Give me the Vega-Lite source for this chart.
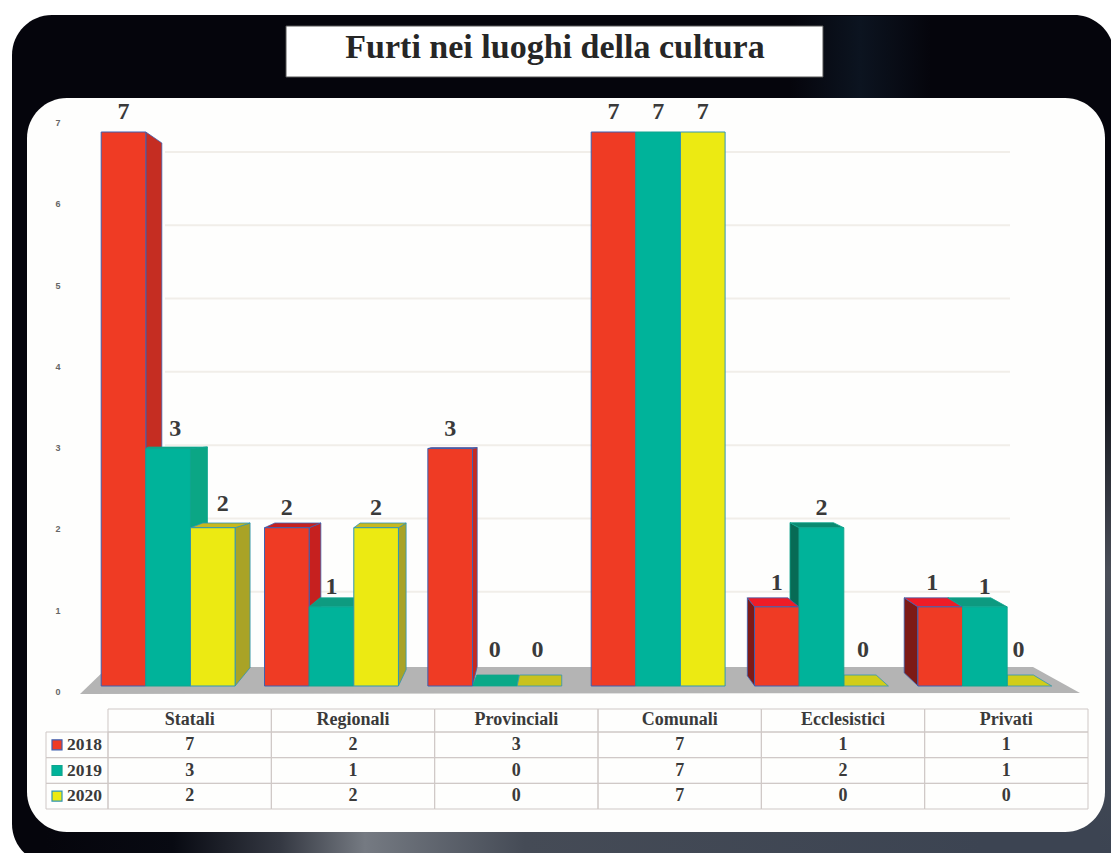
{"$schema":"https://vega.github.io/schema/vega-lite/v6.json","width":1111,"height":853,"padding":0,"autosize":{"type":"none"},"background":"#ffffff","config":{"view":{"stroke":null}},
"datasets":{"bars":[
{"category":"Statali","year":"2018","value":7,"id":"S18"},{"category":"Statali","year":"2019","value":3,"id":"S19"},{"category":"Statali","year":"2020","value":2,"id":"S20"},
{"category":"Regionali","year":"2018","value":2,"id":"R18"},{"category":"Regionali","year":"2019","value":1,"id":"R19"},{"category":"Regionali","year":"2020","value":2,"id":"R20"},
{"category":"Provinciali","year":"2018","value":3,"id":"P18"},{"category":"Provinciali","year":"2019","value":0,"id":"P19"},{"category":"Provinciali","year":"2020","value":0,"id":"P20"},
{"category":"Comunali","year":"2018","value":7,"id":"C18"},{"category":"Comunali","year":"2019","value":7,"id":"C19"},{"category":"Comunali","year":"2020","value":7,"id":"C20"},
{"category":"Ecclesistici","year":"2018","value":1,"id":"E18"},{"category":"Ecclesistici","year":"2019","value":2,"id":"E19"},{"category":"Ecclesistici","year":"2020","value":0,"id":"E20"},
{"category":"Privati","year":"2018","value":1,"id":"V18"},{"category":"Privati","year":"2019","value":1,"id":"V19"},{"category":"Privati","year":"2020","value":0,"id":"V20"}],
"cats":[{"category":"Statali"},{"category":"Regionali"},{"category":"Provinciali"},{"category":"Comunali"},{"category":"Ecclesistici"},{"category":"Privati"}],
"years":[{"year":"2018"},{"year":"2019"},{"year":"2020"}],
"levels":[{"level":0},{"level":1},{"level":2},{"level":3},{"level":4},{"level":5},{"level":6},{"level":7}],
"one":[{}]},
"resolve":{"scale":{"x":"independent","y":"independent","fill":"independent","shape":"independent","stroke":"independent","color":"independent"}},
"layer":[
{"data":{"name":"one"},"mark":{"type":"rect","fill":"#05050c","cornerRadius":40},"encoding":{"x":{"datum":12,"type":"quantitative","axis":null,"scale":{"domain":[0,1111],"range":[0,1111]}},"x2":{"datum":1114},"y":{"datum":15,"type":"quantitative","axis":null,"scale":{"domain":[0,853],"range":[0,853]}},"y2":{"datum":864}}},
{"data":{"name":"one"},"mark":{"type":"rect","fill":{"gradient":"linear","x1":0,"y1":0,"x2":1,"y2":0,"stops":[{"offset":0,"color":"#05050c"},{"offset":0.5,"color":"#0c1420"},{"offset":1,"color":"#05050c"}]}},"encoding":{"x":{"datum":790,"type":"quantitative","axis":null,"scale":{"domain":[0,1111],"range":[0,1111]}},"x2":{"datum":930},"y":{"datum":16,"type":"quantitative","axis":null,"scale":{"domain":[0,853],"range":[0,853]}},"y2":{"datum":98}}},
{"data":{"name":"one"},"mark":{"type":"rect","fill":{"gradient":"linear","x1":0,"y1":0,"x2":1,"y2":0,"stops":[{"offset":0,"color":"#05050c"},{"offset":0.12,"color":"#080a12"},{"offset":0.22,"color":"#343842"},{"offset":0.3,"color":"#757a82"},{"offset":0.45,"color":"#454b56"},{"offset":0.88,"color":"#3c4452"},{"offset":1,"color":"#3c4452"}]}},"encoding":{"x":{"datum":45,"type":"quantitative","axis":null,"scale":{"domain":[0,1111],"range":[0,1111]}},"x2":{"datum":1111},"y":{"datum":785,"type":"quantitative","axis":null,"scale":{"domain":[0,853],"range":[0,853]}},"y2":{"datum":853}}},
{"data":{"name":"one"},"mark":{"type":"rect","fill":{"gradient":"linear","x1":0,"y1":0,"x2":0,"y2":1,"stops":[{"offset":0,"color":"#05050c"},{"offset":0.35,"color":"#15171e"},{"offset":0.6,"color":"#4a4e58"},{"offset":1,"color":"#3c4452"}]}},"encoding":{"x":{"datum":1100,"type":"quantitative","axis":null,"scale":{"domain":[0,1111],"range":[0,1111]}},"x2":{"datum":1111},"y":{"datum":150,"type":"quantitative","axis":null,"scale":{"domain":[0,853],"range":[0,853]}},"y2":{"datum":853}}},
{"data":{"name":"one"},"mark":{"type":"rect","fill":"#fefefd","cornerRadius":40},"encoding":{"x":{"datum":27,"type":"quantitative","axis":null,"scale":{"domain":[0,1111],"range":[0,1111]}},"x2":{"datum":1105},"y":{"datum":98,"type":"quantitative","axis":null,"scale":{"domain":[0,853],"range":[0,853]}},"y2":{"datum":832}}},
{"data":{"name":"one"},"mark":{"type":"rect","fill":"#ffffff","stroke":"#555555","strokeWidth":1},"encoding":{"x":{"datum":286,"type":"quantitative","axis":null,"scale":{"domain":[0,1111],"range":[0,1111]}},"x2":{"datum":823},"y":{"datum":26,"type":"quantitative","axis":null,"scale":{"domain":[0,853],"range":[0,853]}},"y2":{"datum":77}}},
{"data":{"name":"one"},"mark":{"type":"text","text":"Furti nei luoghi della cultura","font":"Liberation Serif","fontWeight":"bold","fontSize":34,"fill":"#262626","align":"center","baseline":"middle"},"encoding":{"x":{"datum":555,"type":"quantitative","axis":null,"scale":{"domain":[0,1111],"range":[0,1111]}},"y":{"datum":48,"type":"quantitative","axis":null,"scale":{"domain":[0,853],"range":[0,853]}}}},
{"data":{"name":"levels"},"transform":[{"filter":"datum.level>0"}],"mark":{"type":"rule","stroke":"#f1eee9","strokeWidth":2},"encoding":{"x":{"datum":165,"type":"quantitative","axis":null,"scale":{"domain":[0,1111],"range":[0,1111]}},"x2":{"datum":1010},"y":{"field":"level","type":"quantitative","axis":null,"scale":{"domain":[0,7],"range":[665,152]}}}},
{"data":{"name":"levels"},"mark":{"type":"text","font":"Liberation Sans","fontSize":9,"fontWeight":"bold","fill":"#666666","align":"center","baseline":"middle"},"encoding":{"x":{"datum":58,"type":"quantitative","axis":null,"scale":{"domain":[0,1111],"range":[0,1111]}},"y":{"field":"level","type":"quantitative","axis":null,"scale":{"domain":[0,7],"range":[692,123]}},"text":{"field":"level","type":"quantitative"}}},
{"data":{"name":"one"},"mark":{"type":"point","shape":"M-496,27 L-468,0 L457,0 L504,26 Z","size":4,"filled":true,"fill":"#b4b4b4","opacity":1,"strokeWidth":0},"encoding":{"x":{"datum":576,"type":"quantitative","axis":null,"scale":{"domain":[0,1111],"range":[0,1111]}},"y":{"datum":667,"type":"quantitative","axis":null,"scale":{"domain":[0,853],"range":[0,853]}}}},
{"data":{"name":"bars"},"transform":[{"filter":"datum.value>0"}],"mark":{"type":"point","size":4,"filled":true,"opacity":1,"strokeWidth":0.8},"encoding":{
"x":{"field":"category","type":"nominal","sort":null,"axis":null,"scale":{"type":"band","domain":["Statali","Regionali","Provinciali","Comunali","Ecclesistici","Privati"],"range":[86.5,1066.5],"paddingInner":0.18,"paddingOuter":0.09}},
"xOffset":{"field":"year","type":"nominal","scale":{"domain":["2018","2019","2020"],"range":[0,133.9]}},
"y":{"field":"value","type":"quantitative","axis":null,"scale":{"domain":[0,7],"range":[686,132]}},
"shape":{"field":"id","type":"nominal","legend":null,"scale":{"domain":["S18","S19","S20","R18","R19","R20","P18","C18","C19","C20","E18","E19","V18","V19"],"range":["M22.3,0 L38.3,11 L38.3,538 L22.3,554 Z","M22.3,0 L39.3,-1.5 L39.3,222 L22.3,237.4 Z","M22.3,0 L37.3,-4.7 L37.3,140 L22.3,158.3 Z","M22.3,0 L34,-4.7 L34,142 L22.3,158.3 Z","M22.3,0 L26,-9 L26,62 L22.3,79 Z","M22.3,0 L30,-4.7 L30,142 L22.3,158.3 Z","M22.3,0 L27,-1 L27,218 L22.3,237.4 Z","M0,0Z","M0,0Z","M0,0Z","M-22.3,0 L-29.5,-9 L-29.5,69 L-22.3,79 Z","M-22.3,0 L-31.5,-5 L-31.5,142 L-22.3,158.3 Z","M-22.3,0 L-36,-9 L-36,66 L-22.3,79 Z","M0,0Z"]}},
"fill":{"field":"id","type":"nominal","legend":null,"scale":{"domain":["S18","S19","S20","R18","R19","R20","P18","C18","C19","C20","E18","E19","V18","V19"],"range":["#c52d22","#0ba685","#a9a326","#c6201f","#0aa084","#a9a326","#c6291f","#000000","#000000","#000000","#7d1a16","#076b55","#7d1a16","#076b55"]}},
"stroke":{"field":"year","type":"nominal","legend":null,"scale":{"domain":["2018","2019","2020"],"range":["#3c5fb0","#0fa58e","#2f95b5"]}}}},
{"data":{"name":"bars"},"mark":{"type":"point","size":4,"filled":true,"opacity":1,"strokeWidth":0.8},"encoding":{
"x":{"field":"category","type":"nominal","sort":null,"axis":null,"scale":{"type":"band","domain":["Statali","Regionali","Provinciali","Comunali","Ecclesistici","Privati"],"range":[86.5,1066.5],"paddingInner":0.18,"paddingOuter":0.09}},
"xOffset":{"field":"year","type":"nominal","scale":{"domain":["2018","2019","2020"],"range":[0,133.9]}},
"y":{"field":"value","type":"quantitative","axis":null,"scale":{"domain":[0,7],"range":[686,132]}},
"shape":{"field":"id","type":"nominal","legend":null,"scale":{"domain":["S18","S19","S20","R18","R19","R20","P18","P19","P20","C18","C19","C20","E18","E19","E20","V18","V19","V20"],"range":["M0,0Z","M-22.3,0 L-20,-1.5 L39.3,-1.5 L22.3,0 Z","M-22.3,0 L-10,-4.7 L37.3,-4.7 L22.3,0 Z","M-22.3,0 L-12,-4.7 L34,-4.7 L22.3,0 Z","M-22.3,0 L-11.5,-9 L26,-9 L22.3,0 Z","M-22.3,0 L-16,-4.7 L30,-4.7 L22.3,0 Z","M-22.3,0 L-19,-1 L27,-1 L22.3,0 Z","M-22.3,0 L-18,-11 L24,-11 L22.3,0 Z","M-22.3,0 L-20,-11 L22.3,-11 L22.3,0 Z","M0,0Z","M0,0Z","M0,0Z","M-22.3,0 L-29.5,-9 L11,-9 L22.3,0 Z","M-22.3,0 L-31.5,-5 L12,-5 L22.3,0 Z","M-22.3,0 L-22.3,-11 L10,-11 L22.3,0 Z","M-22.3,0 L-36,-9 L8,-9 L22.3,0 Z","M-22.3,0 L-37,-9 L6,-9 L22.3,0 Z","M-22.3,0 L-22.3,-11 L4,-11 L22.3,0 Z"]}},
"fill":{"field":"id","type":"nominal","legend":null,"scale":{"domain":["S18","S19","S20","R18","R19","R20","P18","P19","P20","C18","C19","C20","E18","E19","E20","V18","V19","V20"],"range":["#c52d22","#0ba685","#c8b81c","#c6201f","#0e9b80","#c8b81c","#e0322a","#0aa988","#c9c21e","#000000","#000000","#000000","#ee1c26","#0a8a70","#d1cd1a","#ee1c26","#0d9a80","#d1cd1a"]}},
"stroke":{"field":"year","type":"nominal","legend":null,"scale":{"domain":["2018","2019","2020"],"range":["#3c5fb0","#0fa58e","#2f95b5"]}}}},
{"data":{"name":"bars"},"transform":[{"filter":"datum.value>0"}],"mark":{"type":"bar","strokeWidth":1},"encoding":{
"x":{"field":"category","type":"nominal","sort":null,"axis":null,"scale":{"type":"band","domain":["Statali","Regionali","Provinciali","Comunali","Ecclesistici","Privati"],"range":[86.5,1066.5],"paddingInner":0.18,"paddingOuter":0.09}},
"xOffset":{"field":"year","type":"nominal","scale":{"domain":["2018","2019","2020"],"range":[0,133.9]}},
"y":{"field":"value","type":"quantitative","axis":null,"scale":{"domain":[0,7],"range":[686,132]}},
"fill":{"field":"year","type":"nominal","legend":null,"scale":{"domain":["2018","2019","2020"],"range":["#ef3b24","#00b39a","#ecea12"]}},
"stroke":{"field":"year","type":"nominal","legend":null,"scale":{"domain":["2018","2019","2020"],"range":["#3c5fb0","#0fa58e","#2f95b5"]}}}},
{"data":{"name":"bars"},"mark":{"type":"text","font":"Liberation Serif","fontWeight":"bold","fontSize":24,"fill":"#3a3a3a","align":"center","baseline":"middle","dx":{"expr":"datum.id=='S19'?7:datum.id=='S20'?10:datum.id=='V18'?-8:datum.id=='V20'?-11:datum.id=='E20'?-3:datum.id=='P20'?-2:0"},"dy":{"expr":"datum.value==0?-36:(datum.id=='S20'||datum.id=='E18'||datum.id=='V18')?-24:-20"}},"encoding":{
"x":{"field":"category","type":"nominal","sort":null,"axis":null,"scale":{"type":"band","domain":["Statali","Regionali","Provinciali","Comunali","Ecclesistici","Privati"],"range":[86.5,1066.5],"paddingInner":0.18,"paddingOuter":0.09}},
"xOffset":{"field":"year","type":"nominal","scale":{"domain":["2018","2019","2020"],"range":[0,133.9]}},
"y":{"field":"value","type":"quantitative","axis":null,"scale":{"domain":[0,7],"range":[686,132]}},
"text":{"field":"value","type":"quantitative"}}},
{"data":{"name":"cats"},"mark":{"type":"rect","fill":null,"stroke":"#cfc8c6","strokeWidth":1},"encoding":{"x":{"field":"category","type":"nominal","sort":null,"axis":null,"scale":{"type":"band","domain":["Statali","Regionali","Provinciali","Comunali","Ecclesistici","Privati"],"range":[108,1088],"padding":0}},"y":{"datum":709,"type":"quantitative","axis":null,"scale":{"domain":[0,853],"range":[0,853]}},"y2":{"datum":732}}},
{"data":{"name":"bars"},"mark":{"type":"rect","fill":null,"stroke":"#cfc8c6","strokeWidth":1},"encoding":{"x":{"field":"category","type":"nominal","sort":null,"axis":null,"scale":{"type":"band","domain":["Statali","Regionali","Provinciali","Comunali","Ecclesistici","Privati"],"range":[108,1088],"padding":0}},"y":{"field":"year","type":"nominal","axis":null,"scale":{"type":"band","domain":["2018","2019","2020"],"range":[732,809],"padding":0}}}},
{"data":{"name":"years"},"mark":{"type":"rect","fill":null,"stroke":"#cfc8c6","strokeWidth":1},"encoding":{"x":{"datum":46,"type":"quantitative","axis":null,"scale":{"domain":[0,1111],"range":[0,1111]}},"x2":{"datum":108},"y":{"field":"year","type":"nominal","axis":null,"scale":{"type":"band","domain":["2018","2019","2020"],"range":[732,809],"padding":0}}}},
{"data":{"name":"years"},"mark":{"type":"point","shape":"square","size":100,"filled":true,"opacity":1,"strokeWidth":1.2},"encoding":{"x":{"datum":57,"type":"quantitative","axis":null,"scale":{"domain":[0,1111],"range":[0,1111]}},"y":{"field":"year","type":"nominal","axis":null,"scale":{"type":"band","domain":["2018","2019","2020"],"range":[732,809],"padding":0}},
"fill":{"field":"year","type":"nominal","legend":null,"scale":{"domain":["2018","2019","2020"],"range":["#ef3b24","#00b39a","#ecea12"]}},
"stroke":{"field":"year","type":"nominal","legend":null,"scale":{"domain":["2018","2019","2020"],"range":["#3c5fb0","#0fa58e","#2f95b5"]}}}},
{"data":{"name":"years"},"mark":{"type":"text","font":"Liberation Serif","fontWeight":"bold","fontSize":17.5,"fill":"#3a3a3a","align":"left","baseline":"middle"},"encoding":{"x":{"datum":67,"type":"quantitative","axis":null,"scale":{"domain":[0,1111],"range":[0,1111]}},"y":{"field":"year","type":"nominal","axis":null,"scale":{"type":"band","domain":["2018","2019","2020"],"range":[732,809],"padding":0}},"text":{"field":"year","type":"nominal"}}},
{"data":{"name":"cats"},"mark":{"type":"text","font":"Liberation Serif","fontWeight":"bold","fontSize":18,"fill":"#3a3a3a","align":"center","baseline":"middle"},"encoding":{"x":{"field":"category","type":"nominal","sort":null,"axis":null,"scale":{"type":"band","domain":["Statali","Regionali","Provinciali","Comunali","Ecclesistici","Privati"],"range":[108,1088],"padding":0}},"y":{"datum":720,"type":"quantitative","axis":null,"scale":{"domain":[0,853],"range":[0,853]}},"text":{"field":"category","type":"nominal"}}},
{"data":{"name":"bars"},"mark":{"type":"text","font":"Liberation Serif","fontWeight":"bold","fontSize":18,"fill":"#3a3a3a","align":"center","baseline":"middle"},"encoding":{"x":{"field":"category","type":"nominal","sort":null,"axis":null,"scale":{"type":"band","domain":["Statali","Regionali","Provinciali","Comunali","Ecclesistici","Privati"],"range":[108,1088],"padding":0}},"y":{"field":"year","type":"nominal","axis":null,"scale":{"type":"band","domain":["2018","2019","2020"],"range":[732,809],"padding":0}},"text":{"field":"value","type":"quantitative"}}}
]}
